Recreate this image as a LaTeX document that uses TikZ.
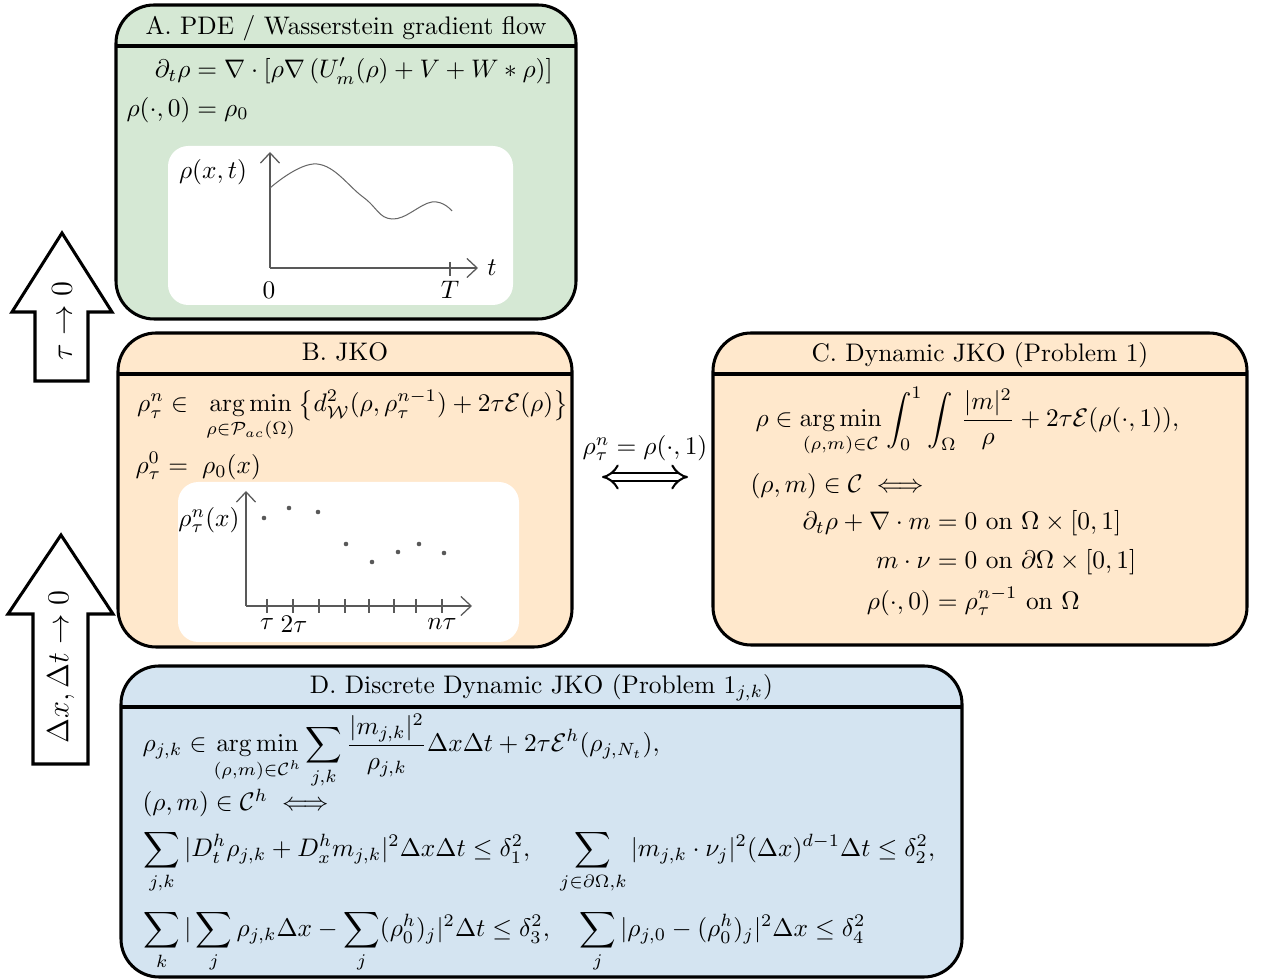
\documentclass[tikz,border=0pt]{standalone}
\usepackage{amsmath}
\usepackage{amssymb}
\usepackage{tikz}
\usetikzlibrary{arrows.meta,positioning,fit,calc}
\definecolor{boxA}{RGB}{213,232,212}
\definecolor{boxB}{RGB}{255,232,204}
\definecolor{boxD}{RGB}{212,228,241}
\DeclareMathOperator*{\argmin}{arg\,min}

\begin{document}
\begin{tikzpicture}[x=0.394pt, y=-0.394pt,
  panel/.style={draw, very thick, rounded corners=15pt, inner sep=0pt, outer sep=0pt},
  ttl/.style={anchor=base, inner sep=0pt},
  eq/.style={anchor=base west, inner sep=0pt},
  plotbg/.style={fill=white, rounded corners=8pt, inner sep=0pt},
  axis/.style={draw=black!65, line width=0.5pt, -{Straight Barb[length=4pt,width=7.5pt]}},
  tick/.style={draw=black!65, line width=0.5pt},
  lbl/.style={inner sep=0pt},
  bigarrow/.style={draw, very thick, fill=white, line join=miter},
  dbl/.style={double, double distance=2.6pt, thick,
              {Implies[length=5pt,width=11pt]}-{Implies[length=5pt,width=11pt]}}]

\useasboundingbox (0,0) rectangle (1263,980);

% --- the four panels
\node[panel, fill=boxA, fit={(116,5) (576,319)}] (A) {};
\node[panel, fill=boxB, fit={(118,333) (572,647)}] (B) {};
\node[panel, fill=boxB, fit={(713,333) (1247,645)}] (C) {};
\node[panel, fill=boxD, fit={(121,666) (962,977)}] (D) {};
\foreach \p in {A,B,C,D}
  \draw[very thick] ($(\p.north west)+(0,41)$) -- ($(\p.north east)+(0,41)$);

\node[ttl] (Atitle) at ($(A.north)+(0,30)$) {A. PDE / Wasserstein gradient flow};
\node[ttl] (Btitle) at ($(B.north)+(0,28)$) {B. JKO};
\node[ttl] (Ctitle) at ($(C.north)+(0,29)$) {C. Dynamic JKO (Problem 1)};
\node[ttl] (Dtitle) at ($(D.north)+(0,28)$) {D. Discrete Dynamic JKO (Problem $1_{j,k}$)};

% --- A: PDE and a sketch of rho(x,t)
\node[eq] (Aeq) at (126,78) {$\begin{aligned}[t]
  \partial_t\rho &= \nabla\cdot\left[\rho\nabla\left(U_m'(\rho)+V+W*\rho\right)\right]\\
  \rho(\cdot,0) &= \rho_0
\end{aligned}$};
\node[plotbg, fit={(168,146) (513,305)}] (Aplot) {};
\coordinate (Ao) at (270,268);
\draw[axis] (Ao) -- ++(0,-116);
\draw[axis] (Ao) -- ++(208,0);
\draw[tick] (450,262) -- (450,276);
\draw[black!60] plot[smooth, tension=0.7] coordinates
  {(270,188) (317,164) (363,197) (392,219) (432,202) (452,211)};
\node[lbl] (Ay) at (213,172) {$\rho(x,t)$};
\node[lbl] (A0) at (269,290) {$0$};
\node[lbl] (AT) at (450,290) {$T$};
\node[lbl] (At) at (492,268) {$t$};

% --- B: JKO steps
\node[eq] (Beq) at (135,412) {$\begin{aligned}[t]
  \rho^n_\tau \in{} & \;\argmin_{\rho\in\mathcal{P}_{ac}(\Omega)}
     \left\{d^2_{\mathcal{W}}(\rho,\rho^{n-1}_\tau)+2\tau\mathcal{E}(\rho)\right\}\\
  \rho^0_\tau ={} & \;\rho_0(x)
\end{aligned}$};
\node[plotbg, fit={(178,482) (519,642)}] (Bplot) {};
\coordinate (Bo) at (246,606);
\draw[axis] (Bo) -- ++(0,-115);
\draw[axis] (Bo) -- ++(226,0);
\foreach \x in {267,293,319,345,369,394,416,442}
  \draw[tick] (\x,599) -- (\x,613);
\foreach \x/\y in {264/518,289/508,318/512,346/544,372/562,398/552,419/544,444/553}
  \fill[black!65] (\x,\y) circle (0.9pt);
\node[lbl] (By) at (209,520) {$\rho^n_\tau(x)$};
\node[lbl] (Bt1) at (267,624) {$\tau$};
\node[lbl] (Bt2) at (294,624) {$2\tau$};
\node[lbl] (Btn) at (442,624) {$n\tau$};

% --- C: dynamic formulation
\node[eq] (Cobj) at (755,427) {$\displaystyle \rho\in\argmin_{(\rho,m)\in\mathcal{C}}
  \int_0^1\int_\Omega\frac{|m|^2}{\rho}+2\tau\mathcal{E}(\rho(\cdot,1)),$};
\node[eq] (Cset) at (750,493) {$(\rho,m)\in\mathcal{C}\iff$};
\node[eq] (Ccon) at (802,530) {$\begin{aligned}[t]
  \partial_t\rho+\nabla\cdot m &= 0\text{ on }\Omega\times[0,1]\\
  m\cdot\nu &= 0\text{ on }\partial\Omega\times[0,1]\\
  \rho(\cdot,0) &= \rho^{n-1}_\tau\text{ on }\Omega
\end{aligned}$};

% --- link B <-> C
\node (link) at (645,448) {$\rho^n_\tau=\rho(\cdot,1)$};
\draw[dbl] ($(B.east)+(30,-13)$) -- ($(C.west)+(-25,-12)$);

% --- D: discrete problem
\node[eq] (Dobj) at (142,752) {$\displaystyle \rho_{j,k}\in\argmin_{(\rho,m)\in\mathcal{C}^h}
  \sum_{j,k}\frac{|m_{j,k}|^2}{\rho_{j,k}}\Delta x\Delta t+2\tau\mathcal{E}^h(\rho_{j,N_t}),$};
\node[eq] (Dset) at (142,811) {$(\rho,m)\in\mathcal{C}^h\iff$};
\node[eq] (Dc1) at (143,857) {$\displaystyle \sum_{j,k}|D^h_t\rho_{j,k}+D^h_x m_{j,k}|^2\Delta x\Delta t\le\delta_1^2,
  \quad\sum_{j\in\partial\Omega,k}|m_{j,k}\cdot\nu_j|^2(\Delta x)^{d-1}\Delta t\le\delta_2^2,$};
\node[eq] (Dc2) at (143,937) {$\displaystyle \sum_k|\sum_j\rho_{j,k}\Delta x-\sum_j(\rho^h_0)_j|^2\Delta t\le\delta_3^2,
  \quad\sum_j|\rho_{j,0}-(\rho^h_0)_j|^2\Delta x\le\delta_4^2$};

% --- limits on the left
\draw[bigarrow] (35,381) -- (35,312) -- (12,312) -- (62,233) -- (112,312) -- (88,312) -- (88,381) -- cycle;
\node[rotate=90, font=\large] (tauzero) at (62,321) {$\tau\to0$};
\draw[bigarrow] (33,764) -- (33,614) -- (8,614) -- (61,535) -- (113,614) -- (88,614) -- (88,764) -- cycle;
\node[rotate=90, font=\large] (gridzero) at (61,667) {$\Delta x,\Delta t\to0$};
\end{tikzpicture}
\end{document}
